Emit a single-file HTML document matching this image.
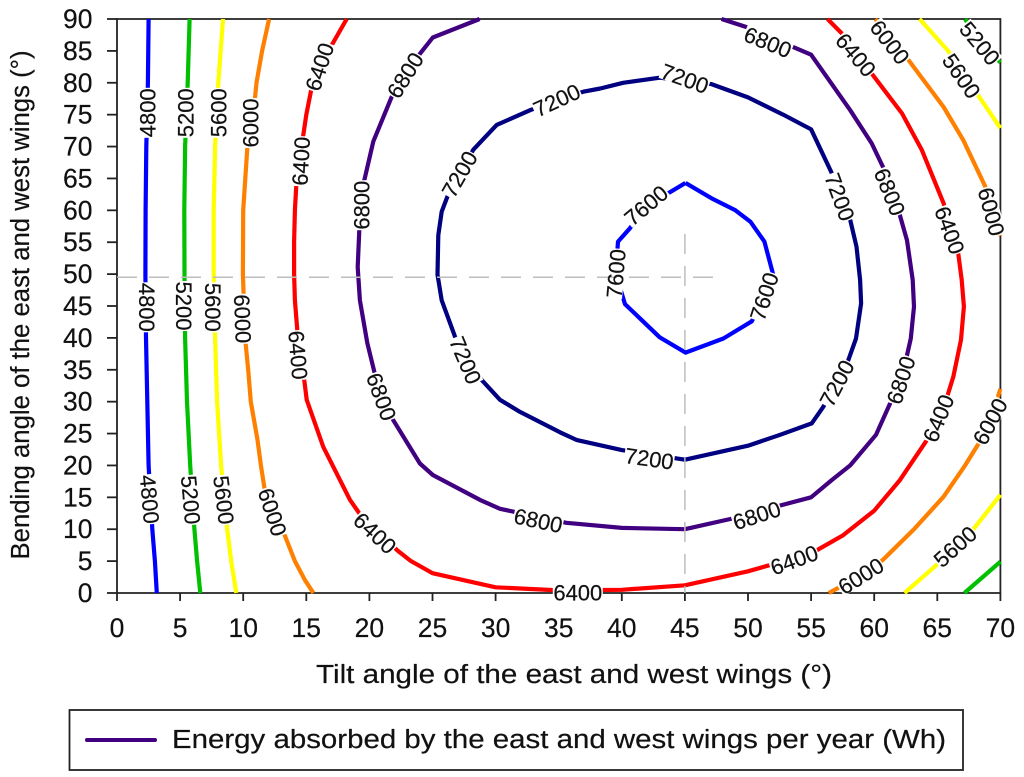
<!DOCTYPE html>
<html lang="en">
<head>
<meta charset="utf-8">
<title>Energy absorbed contour chart</title>
<style>
  html, body { margin: 0; padding: 0; background: #fff; }
  svg { display: block; font-family: "Liberation Sans", sans-serif; }
</style>
</head>
<body>
<svg id="chart" xmlns="http://www.w3.org/2000/svg" width="1024" height="777" viewBox="0 0 1024 777">
  <rect x="0" y="0" width="1024" height="777" fill="#ffffff"/>
  <g id="axes"></g>
  <g id="contours"></g>
  <g id="label-backs"></g>
  <g id="guides"></g>
  <g id="labels"></g>
  <text transform="translate(29,305) rotate(-90)" text-anchor="middle" font-size="25.5" fill="#111" stroke="#111" stroke-width="0.2" textLength="509" lengthAdjust="spacingAndGlyphs">Bending angle of the east and west wings (°)</text>
  <text x="574" y="683" text-anchor="middle" font-size="25.5" fill="#111" stroke="#111" stroke-width="0.2" textLength="516" lengthAdjust="spacingAndGlyphs">Tilt angle of the east and west wings (°)</text>
  <g>
    <rect x="69.5" y="710" width="893.5" height="60" fill="#ffffff" stroke="#222222" stroke-width="1.8"/>
    <line x1="87" y1="740" x2="155" y2="740" stroke="#400080" stroke-width="4" stroke-linecap="round"/>
    <text x="172" y="748" font-size="25.5" fill="#111" stroke="#111" stroke-width="0.2" textLength="774" lengthAdjust="spacingAndGlyphs">Energy absorbed by the east and west wings per year (Wh)</text>
  </g>
</svg>
<script>
// Tick labels
const xTickLabels = [0, 5, 10, 15, 20, 25, 30, 35, 40, 45, 50, 55, 60, 65, 70];
const yTickLabels = [0, 5, 10, 15, 20, 25, 30, 35, 40, 45, 50, 55, 60, 65, 70, 75, 80, 85, 90];

// Contour values: [tilt angle, bending angle]
const contour4800Left = [[2.5,90],[2.45,80],[2.32,70],[2.27,60],[2.25,50],[2.3,40],[2.4,30],[2.5,20],[2.8,10],[3,5],[3.15,0]];
const contour5200Left = [[5.75,90],[5.6,80],[5.4,70],[5.33,60],[5.35,50],[5.4,40],[5.55,30],[5.8,20],[6.13,10],[6.35,5],[6.6,0]];
const contour5600Left = [[8.4,90],[8.03,80],[7.77,70],[7.66,60],[7.66,50],[7.77,40],[7.93,30],[8.25,20],[8.73,10],[9.05,5],[9.45,0]];
const contour6000Left = [[12.05,90],[11.5,85],[11.05,80],[10.8,75],[10.33,70],[10,60],[9.98,50],[10.15,40],[10.4,35],[10.6,30],[11.13,24],[11.4,20],[11.8,15],[13.1,10],[14.1,5],[14.9,2],[15.56,0]];
const contour6400 = [[18.2,90],[16.75,85],[15.5,80],[15,75],[14.63,70],[14.24,65],[14.1,60],[14.03,55],[14.03,50],[14.1,45.9],[14.29,41.2],[14.37,37.3],[14.82,33.7],[15.03,30.3],[16.35,22.9],[18.46,14.6],[19.2,12.5],[22.2,6.7],[23.3,5],[25,3.1],[30,0.9],[35,0.4],[40,0.5],[45,1.2],[50,3.4],[55,6.2],[57.5,9],[60,12.9],[62.04,17.7],[64.08,23.7],[65.07,27.4],[65.82,31],[66.27,33.9],[66.88,39.7],[67.11,44.9],[66.93,49.1],[66.66,53.3],[65.5,61.1],[63.76,69.5],[62.2,75.2],[59.9,81.2],[57.4,87.8],[56.3,90]];
const contour6800 = [[28.73,90],[25.02,87.1],[23.95,84.4],[22.82,81.2],[21.77,77.8],[20.31,70.8],[19.57,64.5],[19.2,56.9],[19.07,51.1],[19.25,45.9],[19.83,39.2],[20.39,34.7],[20.97,30.8],[21.89,27.1],[24,20.3],[25.02,18.5],[28.76,14.6],[30.35,13.2],[35.6,11],[40,10.2],[45,10],[48.6,11.6],[52.7,13.8],[55,15],[56.63,17.7],[58.1,20],[60.14,24.8],[61.25,29.7],[62.1,33.4],[62.57,37],[62.9,39.9],[63.15,44.9],[63.05,49.1],[62.6,55.3],[62,59.5],[60.7,66.8],[59.8,70.5],[58.1,75.7],[55,84.4],[53.7,85.5],[49.8,88.8],[47.9,90]];
const contour7200 = [[38.3,79.1],[40.1,80],[43,80.8],[47.1,79.8],[50,77.7],[52.8,75],[55,72.7],[56.6,66],[58.1,58.5],[58.6,54.3],[58.88,49.1],[58.96,45.4],[58.56,39.9],[57.95,36.5],[57,32.9],[55.97,29.2],[55.05,26.6],[52.54,24.8],[50,23.1],[45,20.9],[40,22.4],[36.4,24],[35.1,25.2],[31.93,28.4],[30.35,30.3],[28.9,33.4],[27.63,36.5],[26.78,40.2],[25.73,45.9],[25.4,49.9],[25.46,56.1],[25.73,59.8],[26.17,62.1],[27.12,65.7],[28.23,69.5],[30.09,73.4],[32.73,75.7],[34.84,77.3],[36.95,78.6],[38.3,79.1]];
const contour7600 = [[45.05,64.3],[47.1,61.9],[49,60],[50.2,58.2],[51.3,55.1],[52,49.9],[51.27,46.5],[50.3,42.6],[48.05,39.9],[45.05,37.7],[43,40.1],[40.25,45.3],[39.52,50.1],[39.7,55.1],[40.65,57.2],[41.92,60.8],[43.7,62.7],[45.05,64.3]];
const contour6000UpperRight = [[60.1,90],[61.25,86.4],[62.7,83.6],[65.5,76.2],[67.06,71],[68.8,63.7],[69.3,59.8],[70,56]];
const contour5600UpperRight = [[63.6,90],[65.9,84.9],[66.93,81.1],[68.25,78],[70,72.9]];
const contour5200UpperRight = [[67.2,90],[68.38,86.2],[70,83.2]];
const contour6000LowerRight = [[56.4,0],[58.93,2.7],[60.7,5.2],[63.2,10.1],[65.5,15.1],[66.4,17.7],[67.2,20],[68.3,23.5],[69.17,26.9],[70,32]];
const contour5600LowerRight = [[62.4,0],[65,4.5],[66.4,7.3],[67.9,10.1],[70,15.4]];
const contour5200LowerRight = [[67.15,0],[70,4.9]];

const contourLevels = [4800, 5200, 5600, 6000, 6400, 6800, 7200, 7600, 6000, 5600, 5200, 6000, 5600, 5200];

// Contour labels: level, tilt, bending, text rotation
const labelLevels = [4800,5200,5600,6000,6400,6400,6800,6800,4800,5200,5600,6000,6400,6800,7200,7200,7200,7200,7200,6800,6400,6000,5600,5200,6800,6400,6000,7600,7600,7600,4800,5200,5600,6000,6400,6800,6800,7200,6400,6400,6000,5600,7200,6800,6400,6000];
const labelTilts = [2.43,5.41,8.03,10.59,16.03,14.56,19.39,22.82,2.38,5.31,7.61,9.98,14.37,20.97,27.63,27.12,34.84,45,57.29,51.58,58.56,61.25,66.93,68.38,61.25,66,69.3,41.92,39.52,51.27,2.61,5.86,8.48,12.34,20.45,33.38,50.69,42.18,36.51,53.65,58.93,66.4,57.03,62.1,65.07,69.17];
const labelBends = [75.3,75.3,75.3,73.7,82.5,67.7,60.8,81.2,44.8,45,44.8,43,37.3,30.8,36.5,65.7,77.3,80.7,62.1,86.4,84.4,86.4,81.1,86.2,62.9,56.9,59.8,60.8,50.1,46.5,14.7,14.6,14.6,12.7,9.4,11.4,12.2,21.1,0.05,5.2,2.7,7.3,32.9,33.4,27.4,26.9];
const labelAngles = [-90,-90,-90,-90,-72,-87,-90,-58,90,90,90,88,85,70,67,-60,-25,20,70,22,50,52,55,50,68,70,75,-40,-85,-72,85,85,83,72,43,12,-18,8,0,-20,-32,-42,-62,-72,-68,-62];

// Optimum guide lines
const optimumTilt = 45;
const optimumBend = 49.5;
const guideTiltEnd = 47.9;
const guideBendEnd = 56.3;

const NS = 'http://www.w3.org/2000/svg';
const xScale = v => 117 + (v / 70) * 883.4;
const yScale = v => 593 - (v / 90) * 574;
const levelColor = l => ({4800:'#0000ff',5200:'#00c000',5600:'#ffff00',6000:'#ff8000',6400:'#ff0000',6800:'#400080',7200:'#000080',7600:'#0000ff'})[l];

function make(tag, attrs, parent) {
  const el = document.createElementNS(NS, tag);
  for (const k in attrs) el.setAttribute(k, attrs[k]);
  parent.appendChild(el);
  return el;
}

const axes = document.getElementById('axes');
const frame = make('path', {
  d: `M${xScale(0)} ${yScale(90)}H${xScale(70)}V${yScale(0)}H${xScale(0)}Z`,
  fill: 'none', stroke: '#222222', 'stroke-width': 1.8
}, axes);



xTickLabels.forEach(v => {
  const tick = make('line', { x1: xScale(v), x2: xScale(v), y1: yScale(0), y2: yScale(0) + 8, stroke: '#222222', 'stroke-width': 1.8 }, axes);
  
  
  const text = make('text', { x: xScale(v), y: 637, 'text-anchor': 'middle', 'font-size': 26.5, fill: '#111', stroke: '#111', 'stroke-width': 0.2 }, axes);
  text.textContent = v;
  
  
});

yTickLabels.forEach(v => {
  const tick = make('line', { x1: 107, x2: xScale(0), y1: yScale(v), y2: yScale(v), stroke: '#222222', 'stroke-width': 1.8 }, axes);
  
  
  const text = make('text', { x: 92.5, y: yScale(v) + 9, 'text-anchor': 'end', 'font-size': 26.5, fill: '#111', stroke: '#111', 'stroke-width': 0.2 }, axes);
  text.textContent = v;
  
  
});

const contourSeries = [contour4800Left, contour5200Left, contour5600Left, contour6000Left, contour6400, contour6800, contour7200, contour7600, contour6000UpperRight, contour5600UpperRight, contour5200UpperRight, contour6000LowerRight, contour5600LowerRight, contour5200LowerRight];
const contourGroup = document.getElementById('contours');
contourSeries.forEach((pts, i) => {
  const line = make('polyline', {
    points: pts.map(p => xScale(p[0]).toFixed(1) + ',' + yScale(p[1]).toFixed(1)).join(' '),
    fill: 'none', stroke: levelColor(contourLevels[i]), 'stroke-width': 4.2, 'stroke-linejoin': 'round'
  }, contourGroup);
  
  
});

const backs = document.getElementById('label-backs');
const labelGroup = document.getElementById('labels');
labelLevels.forEach((level, i) => {
  const cx = xScale(labelTilts[i]);
  const cy = yScale(labelBends[i]);
  const t = `translate(${cx.toFixed(1)},${cy.toFixed(1)}) rotate(${labelAngles[i]})`;
  const back = make('rect', { x: -25, y: -8.5, width: 50, height: 17, fill: '#ffffff', transform: t }, backs);
  
  
  const text = make('text', { x: 0, y: 8, 'text-anchor': 'middle', 'font-size': 22, fill: '#111', stroke: '#111', 'stroke-width': 0.2, transform: t }, labelGroup);
  text.textContent = level;
  
  
});

const guides = document.getElementById('guides');
const hGuide = make('line', { x1: xScale(0), x2: xScale(guideTiltEnd), y1: yScale(optimumBend), y2: yScale(optimumBend), stroke: '#bdbdbd', 'stroke-width': 1.5, 'stroke-dasharray': '20 12' }, guides);


const vGuide = make('line', { x1: xScale(optimumTilt), x2: xScale(optimumTilt), y1: yScale(guideBendEnd), y2: yScale(0), stroke: '#bdbdbd', 'stroke-width': 1.5, 'stroke-dasharray': '20 12' }, guides);


</script>
</body>
</html>
